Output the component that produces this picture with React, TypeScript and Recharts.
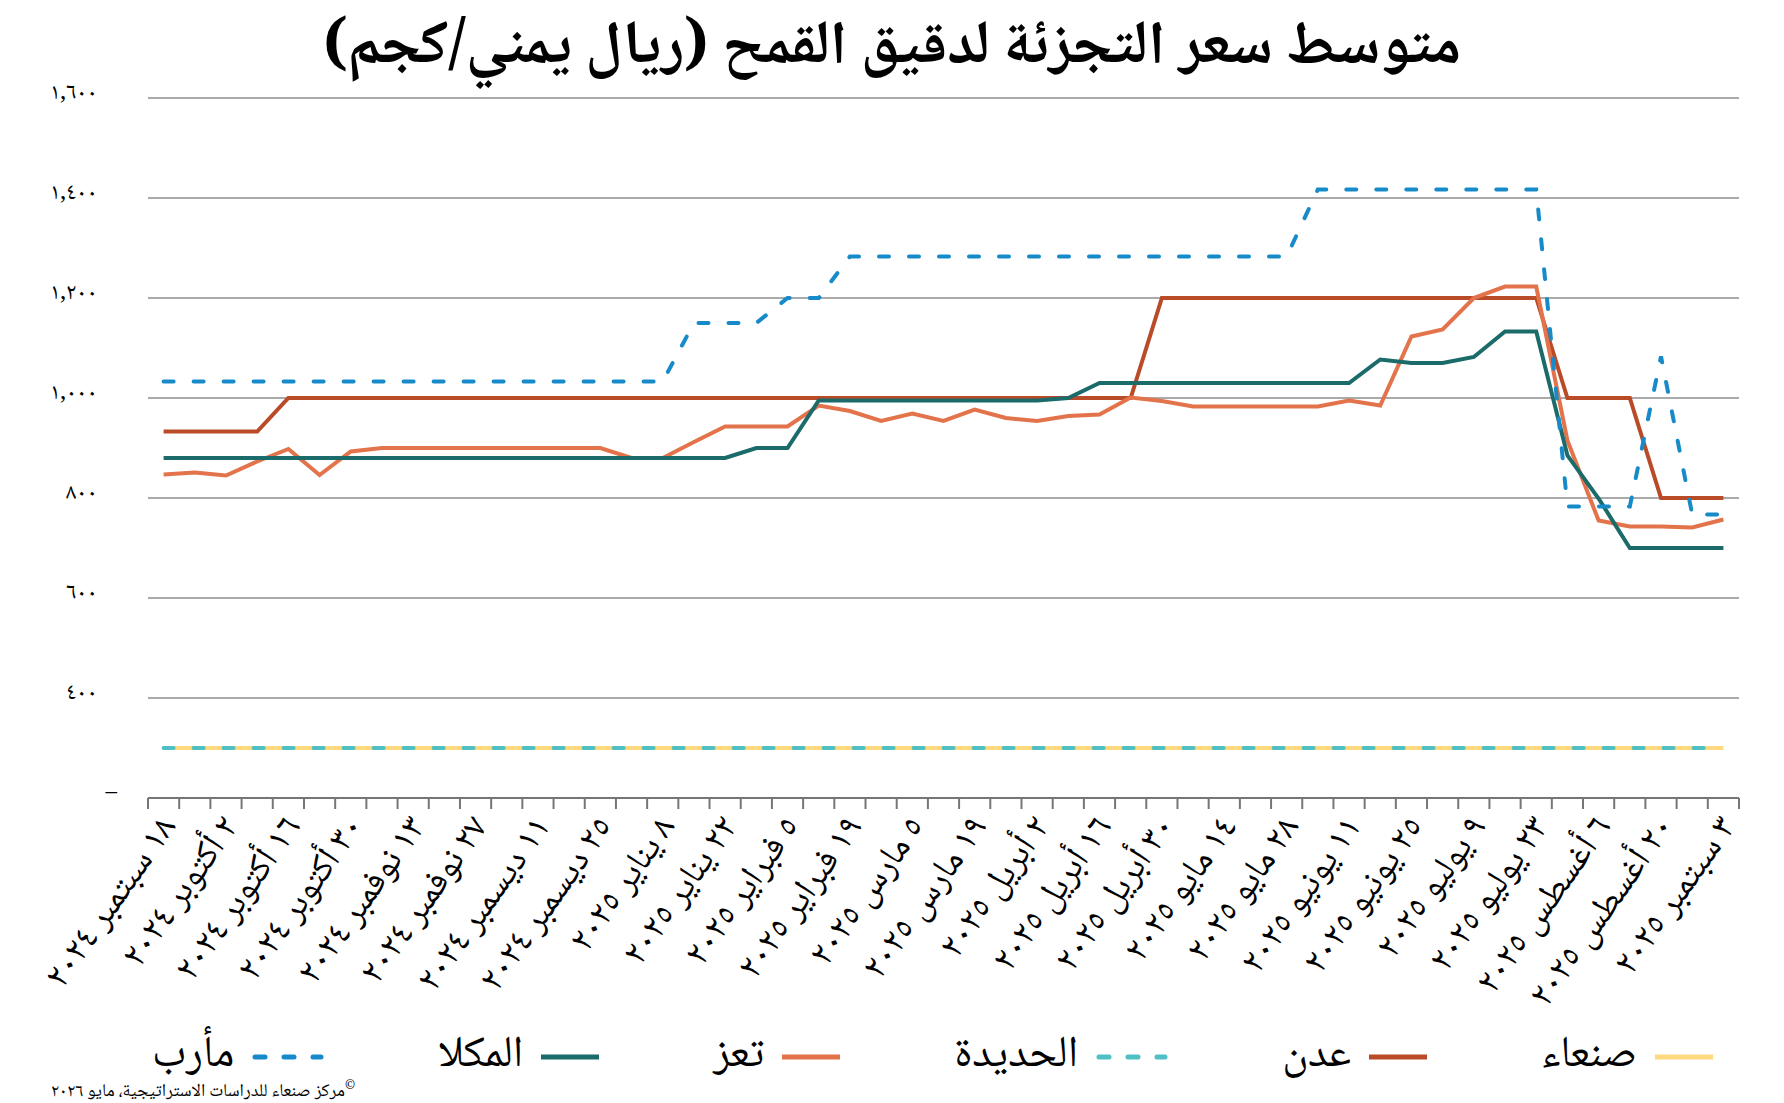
import React from 'react';
import { LineChart, Line, XAxis, YAxis, CartesianGrid } from 'recharts';

const dates = [
  '١٨ سبتمبر ٢٠٢٤', '٢٥ سبتمبر ٢٠٢٤', '٢ أكتوبر ٢٠٢٤', '٩ أكتوبر ٢٠٢٤', '١٦ أكتوبر ٢٠٢٤', '٢٣ أكتوبر ٢٠٢٤',
  '٣٠ أكتوبر ٢٠٢٤', '٦ نوفمبر ٢٠٢٤', '١٣ نوفمبر ٢٠٢٤', '٢٠ نوفمبر ٢٠٢٤', '٢٧ نوفمبر ٢٠٢٤', '٤ ديسمبر ٢٠٢٤',
  '١١ ديسمبر ٢٠٢٤', '١٨ ديسمبر ٢٠٢٤', '٢٥ ديسمبر ٢٠٢٤', '١ يناير ٢٠٢٥', '٨ يناير ٢٠٢٥', '١٥ يناير ٢٠٢٥',
  '٢٢ يناير ٢٠٢٥', '٢٩ يناير ٢٠٢٥', '٥ فبراير ٢٠٢٥', '١٢ فبراير ٢٠٢٥', '١٩ فبراير ٢٠٢٥', '٢٦ فبراير ٢٠٢٥',
  '٥ مارس ٢٠٢٥', '١٢ مارس ٢٠٢٥', '١٩ مارس ٢٠٢٥', '٢٦ مارس ٢٠٢٥', '٢ أبريل ٢٠٢٥', '٩ أبريل ٢٠٢٥',
  '١٦ أبريل ٢٠٢٥', '٢٣ أبريل ٢٠٢٥', '٣٠ أبريل ٢٠٢٥', '٧ مايو ٢٠٢٥', '١٤ مايو ٢٠٢٥', '٢١ مايو ٢٠٢٥',
  '٢٨ مايو ٢٠٢٥', '٤ يونيو ٢٠٢٥', '١١ يونيو ٢٠٢٥', '١٨ يونيو ٢٠٢٥', '٢٥ يونيو ٢٠٢٥', '٢ يوليو ٢٠٢٥',
  '٩ يوليو ٢٠٢٥', '١٦ يوليو ٢٠٢٥', '٢٣ يوليو ٢٠٢٥', '٣٠ يوليو ٢٠٢٥', '٦ أغسطس ٢٠٢٥', '١٣ أغسطس ٢٠٢٥',
  '٢٠ أغسطس ٢٠٢٥', '٢٧ أغسطس ٢٠٢٥', '٣ سبتمبر ٢٠٢٥',
];

const sanaa = [
  300, 300, 300, 300, 300, 300, 300, 300, 300, 300, 300, 300, 300, 300, 300, 300, 300,
  300, 300, 300, 300, 300, 300, 300, 300, 300, 300, 300, 300, 300, 300, 300, 300, 300,
  300, 300, 300, 300, 300, 300, 300, 300, 300, 300, 300, 300, 300, 300, 300, 300, 300,
];
const aden = [
  933, 933, 933, 933, 1000, 1000, 1000, 1000, 1000, 1000, 1000, 1000, 1000, 1000, 1000, 1000, 1000,
  1000, 1000, 1000, 1000, 1000, 1000, 1000, 1000, 1000, 1000, 1000, 1000, 1000, 1000, 1000, 1200, 1200,
  1200, 1200, 1200, 1200, 1200, 1200, 1200, 1200, 1200, 1200, 1200, 1000, 1000, 1000, 800, 800, 800,
];
const hodeidah = [
  300, 300, 300, 300, 300, 300, 300, 300, 300, 300, 300, 300, 300, 300, 300, 300, 300,
  300, 300, 300, 300, 300, 300, 300, 300, 300, 300, 300, 300, 300, 300, 300, 300, 300,
  300, 300, 300, 300, 300, 300, 300, 300, 300, 300, 300, 300, 300, 300, 300, 300, 300,
];
const taiz = [
  847, 851, 845, 873, 898, 846, 893, 900, 900, 900, 900, 900, 900, 900, 900, 880, 880,
  912, 943, 943, 943, 985, 974, 954, 969, 954, 977, 960, 954, 964, 967, 1001, 994, 983,
  983, 983, 983, 983, 995, 985, 1123, 1137, 1200, 1223, 1223, 915, 755, 743, 743, 741, 757,
];
const mukalla = [
  880, 880, 880, 880, 880, 880, 880, 880, 880, 880, 880, 880, 880, 880, 880, 880, 880,
  880, 880, 900, 900, 995, 995, 995, 995, 995, 995, 995, 995, 1000, 1030, 1030, 1030, 1030,
  1030, 1030, 1030, 1030, 1030, 1077, 1070, 1070, 1082, 1133, 1133, 885, 799, 700, 700, 700, 700,
];
const marib = [
  1033, 1033, 1033, 1033, 1033, 1033, 1033, 1033, 1033, 1033, 1033, 1033, 1033, 1033, 1033, 1033, 1033,
  1150, 1150, 1150, 1200, 1200, 1283, 1283, 1283, 1283, 1283, 1283, 1283, 1283, 1283, 1283, 1283, 1283,
  1283, 1283, 1283, 1417, 1417, 1417, 1417, 1417, 1417, 1417, 1417, 783, 783, 783, 1083, 767, 767,
];

const yTicks = [200, 400, 600, 800, 1000, 1200, 1400, 1600];
const yTickLabels = ['–', '٤٠٠', '٦٠٠', '٨٠٠', '١,٠٠٠', '١,٢٠٠', '١,٤٠٠', '١,٦٠٠'];

const seriesNames = ['صنعاء', 'عدن', 'الحديدة', 'تعز', 'المكلا', 'مأرب'];
const seriesKeys = ['sanaa', 'aden', 'hodeidah', 'taiz', 'mukalla', 'marib'];
const seriesColors = ['#FFD97E', '#B94B28', '#4EBFC4', '#E3734A', '#1A6B6A', '#178BC9'];
const seriesDashed = [false, false, true, false, false, true];

const title = 'متوسط سعر التجزئة لدقيق القمح (ريال يمني/كجم)';
const credit = 'مركز صنعاء للدراسات الاستراتيجية، مايو ٢٠٢٦';

const data = dates.map((d, i) => ({
  date: d,
  sanaa: sanaa[i],
  aden: aden[i],
  hodeidah: hodeidah[i],
  taiz: taiz[i],
  mukalla: mukalla[i],
  marib: marib[i],
}));

const AR_FONT = "'Noto Naskh Arabic', 'Noto Sans Arabic', 'DejaVu Sans', sans-serif";
const W = 1784;
const H = 1103;
const M = { top: 98, right: 45, left: 88, bottom: 155 };
const Y_W = 60;
const PLOT_W = W - M.left - M.right - Y_W;
const HALF_BAND = PLOT_W / (2 * dates.length);
const AXIS_COLOR = '#767676';

const XTick = (props: any) => {
  const { x, y, payload, index } = props;
  const isLast = index === dates.length - 1;
  return (
    <g>
      <line x1={x - HALF_BAND} y1={y} x2={x - HALF_BAND} y2={y + 11} stroke={AXIS_COLOR} strokeWidth={2} />
      {isLast && (
        <line x1={x + HALF_BAND} y1={y} x2={x + HALF_BAND} y2={y + 11} stroke={AXIS_COLOR} strokeWidth={2} />
      )}
      {index % 2 === 0 && (
        <g transform={`translate(${x + 3},${y + 21})`}>
          <text
            x={0}
            y={0}
            dy="0.35em"
            textAnchor="end"
            transform="rotate(-55)"
            fontSize={36}
            fill="#000"
            fontFamily={AR_FONT}
          >
            {payload.value}
          </text>
        </g>
      )}
    </g>
  );
};

const YTick = (props: any) => {
  const { x, y, payload } = props;
  const idx = yTicks.indexOf(payload.value);
  const label = yTickLabels[idx];
  const isDash = label === '–';
  return (
    <text
      x={isDash ? x - 31 : x - 51}
      y={y + 1}
      textAnchor="end"
      fontSize={23}
      fill="#000"
      fontFamily={AR_FONT}
    >
      {label}
    </text>
  );
};

const Swatch = ({ color, dashed }: { color: string; dashed: boolean }) => (
  <svg width={dashed ? 74 : 60} height={10} style={{ display: 'block' }}>
    <line
      x1={dashed ? 4 : 1}
      y1={5}
      x2={dashed ? 70 : 59}
      y2={5}
      stroke={color}
      strokeWidth={5}
      strokeDasharray={dashed ? '10 19' : undefined}
      strokeLinecap={dashed ? 'round' : 'butt'}
    />
  </svg>
);

export default function App() {
  return (
    <div style={{ position: 'absolute', left: 0, top: 0, width: W, height: H, background: '#fff', overflow: 'hidden' }}>
      <div style={{ position: 'absolute', left: 0, top: 0 }}>
        <LineChart width={W} height={H} data={data} margin={M}>
          <CartesianGrid horizontal vertical={false} stroke="#8e8e8e" strokeWidth={1.5} />
          <XAxis
            dataKey="date"
            interval={0}
            tickLine={false}
            tickSize={0}
            tickMargin={0}
            axisLine={{ stroke: AXIS_COLOR, strokeWidth: 2 }}
            tick={<XTick />}
            height={150}
            padding={{ left: HALF_BAND, right: HALF_BAND }}
          />
          <YAxis
            width={Y_W}
            domain={[200, 1600]}
            ticks={yTicks}
            axisLine={false}
            tickLine={false}
            tickSize={0}
            tickMargin={0}
            tick={<YTick />}
            interval={0}
          />
          {seriesKeys.map((k, i) => (
            <Line
              key={k}
              type="linear"
              dataKey={k}
              name={seriesNames[i]}
              stroke={seriesColors[i]}
              strokeWidth={4}
              strokeDasharray={seriesDashed[i] ? '10 20' : undefined}
              strokeLinecap={seriesDashed[i] ? 'round' : 'butt'}
              strokeLinejoin="miter"
              dot={false}
              activeDot={false}
              isAnimationActive={false}
            />
          ))}
        </LineChart>
      </div>
      <div
        dir="rtl"
        style={{
          position: 'absolute',
          left: 0,
          top: 5,
          width: W,
          textAlign: 'center',
          fontFamily: AR_FONT,
          fontWeight: 700,
          fontSize: 61,
          lineHeight: '90px',
          color: '#000',
          zIndex: 2,
        }}
      >
        {title}
      </div>
      <div
        dir="rtl"
        style={{
          position: 'absolute',
          left: 152,
          top: 1026,
          width: 1562,
          height: 62,
          display: 'flex',
          flexDirection: 'row',
          justifyContent: 'space-between',
          alignItems: 'center',
          fontFamily: AR_FONT,
          fontSize: 44,
          color: '#000',
          zIndex: 2,
        }}
      >
        {seriesNames.map((n, i) => (
          <div key={n} style={{ display: 'flex', alignItems: 'center', gap: 17 }}>
            <Swatch color={seriesColors[i]} dashed={seriesDashed[i]} />
            <span style={{ lineHeight: '62px' }}>{n}</span>
          </div>
        ))}
      </div>
      <div
        dir="rtl"
        style={{
          position: 'absolute',
          left: 51,
          top: 1075,
          fontFamily: AR_FONT,
          fontSize: 18,
          lineHeight: '24px',
          color: '#000',
          whiteSpace: 'nowrap',
          zIndex: 2,
        }}
      >
        <sup style={{ fontSize: 12 }}>©</sup>
        {credit}
      </div>
    </div>
  );
}
